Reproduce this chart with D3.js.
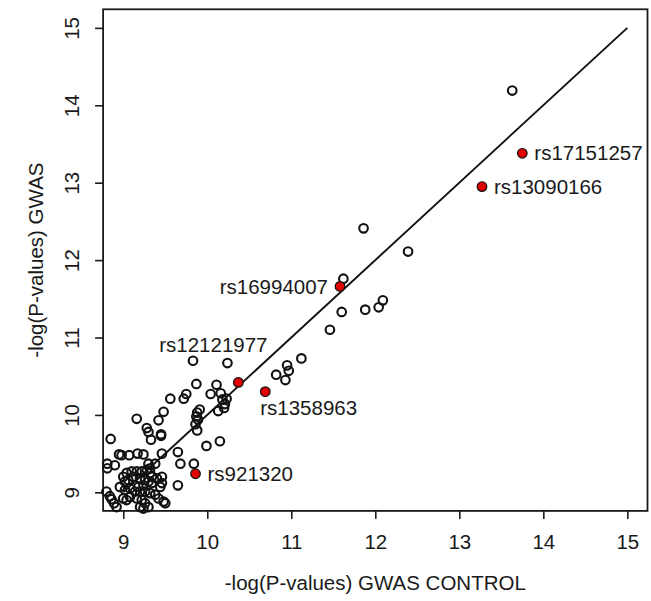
<!DOCTYPE html>
<html>
<head>
<meta charset="utf-8">
<script src="https://cdn.jsdelivr.net/npm/d3@7"></script>
<style>
  body { margin: 0; background: #fff; }
  text { font-family: "Liberation Sans", Arial, sans-serif; fill: #1a1a1a; }
</style>
</head>
<body>
<div id="chart"></div>
<script>
// open circles: -log(P) in control GWAS vs GWAS
const controlX = [
  9.83, 10.24, 9.87, 10.11, 10.04, 10.16, 10.18, 10.23, 9.75, 9.72,
  9.56, 9.48, 9.16, 9.42, 9.91, 9.88, 9.87, 9.89, 10.13, 10.20,
  10.21, 9.86, 9.88, 9.28, 9.30, 9.45, 9.45, 9.33, 8.85, 9.99,
  10.15, 9.65, 9.46, 8.95, 8.98, 9.07, 9.17, 9.24, 8.81, 8.90,
  8.81, 9.68, 9.84, 9.30, 9.32, 9.38, 9.65,
  11.12, 10.82, 10.95, 10.97, 10.93,
  13.63, 11.86, 12.39, 11.62, 12.09, 12.04, 11.88, 11.60, 11.46,
  9.04, 9.00, 9.02, 9.06, 9.10, 9.12, 9.16, 9.22, 9.28, 9.32,
  9.34, 9.20, 9.26, 9.30, 9.34, 9.24, 9.18, 9.40, 9.46, 9.46,
  9.44, 8.96, 9.02, 9.08, 9.14, 9.20, 9.26, 9.32, 9.38, 9.42,
  9.48, 9.50, 9.16, 9.22, 9.26, 9.20, 9.24, 9.30, 8.80, 8.84,
  8.86, 8.89, 8.92, 9.00, 9.04, 9.08
];
const gwasY = [
  10.70, 10.67, 10.40, 10.39, 10.27, 10.28, 10.20, 10.21, 10.27, 10.21,
  10.21, 10.04, 9.95, 9.93, 10.07, 10.03, 9.98, 9.94, 10.05, 10.09,
  10.14, 9.88, 9.80, 9.83, 9.78, 9.75, 9.73, 9.68, 9.69, 9.60,
  9.66, 9.52, 9.50, 9.49, 9.48, 9.48, 9.50, 9.49, 9.37, 9.35,
  9.31, 9.37, 9.37, 9.37, 9.31, 9.37, 9.09,
  10.73, 10.52, 10.64, 10.57, 10.45,
  14.19, 12.41, 12.11, 11.76, 11.48, 11.39, 11.36, 11.33, 11.10,
  9.25, 9.20, 9.14, 9.16, 9.27, 9.20, 9.27, 9.27, 9.29, 9.25,
  9.20, 9.18, 9.16, 9.14, 9.12, 9.09, 9.07, 9.18, 9.20, 9.12,
  9.07, 9.07, 9.03, 9.05, 9.01, 9.01, 9.01, 8.99, 8.97, 8.92,
  8.88, 8.86, 8.92, 8.90, 8.86, 8.81, 8.79, 8.81, 9.01, 8.95,
  8.91, 8.86, 8.81, 8.92, 8.90, 8.94
];

// highlighted SNPs
const snpNames = ["rs17151257", "rs13090166", "rs16994007", "rs12121977", "rs1358963", "rs921320"];
const snpX = [13.75, 13.27, 11.58, 10.37, 10.69, 9.86];
const snpY = [13.38, 12.95, 11.66, 10.42, 10.30, 9.24];

const xTicks = [9, 10, 11, 12, 13, 14, 15];
const yTicks = [9, 10, 11, 12, 13, 14, 15];
const refLine = [9, 15];

// label placement (pixels from the point)
const labelPos = [
  {dx: 12, dy: 0, anchor: "start"},
  {dx: 12, dy: 0, anchor: "start"},
  {dx: -12, dy: 0, anchor: "end"},
  {dx: -25, dy: -38, anchor: "middle"},
  {dx: -5, dy: 16, anchor: "start"},
  {dx: 12, dy: 0, anchor: "start"}
];

const W = 651, H = 601;
const fs = 20.5;

const svg = d3.select("#chart").append("svg")
  .attr("width", W)
  .attr("height", H);

const x = d3.scaleLinear().domain([8.76, 15.24]).range([103.1, 647.5]);
const y = d3.scaleLinear().domain([8.76, 15.24]).range([510.9, 9.3]);

// axes
const xAxis = d3.axisBottom(x).tickValues(xTicks).tickSize(8).tickPadding(16).tickFormat(d3.format("d"));
const yAxis = d3.axisLeft(y).tickValues(yTicks).tickSize(8).tickPadding(13).tickFormat(d3.format("d"));

const gx = svg.append("g")
  .attr("transform", "translate(0," + y.range()[0] + ")")
  .call(xAxis);
gx.select(".domain").remove();
gx.selectAll("line").attr("stroke", "#1a1a1a").attr("stroke-width", 1.6);
gx.selectAll("text").style("font-size", fs + "px").style("font-family", "Liberation Sans, Arial, sans-serif").attr("fill", "#1a1a1a");

const gy = svg.append("g")
  .attr("transform", "translate(" + x.range()[0] + ",0)")
  .call(yAxis);
gy.select(".domain").remove();
gy.selectAll("line").attr("stroke", "#1a1a1a").attr("stroke-width", 1.6);
gy.selectAll("text")
  .style("font-size", fs + "px")
  .style("font-family", "Liberation Sans, Arial, sans-serif")
  .attr("fill", "#1a1a1a")
  .attr("text-anchor", "middle")
  .attr("dy", "0.35em")
  .attr("x", 0)
  .attr("transform", d => "translate(-31,0) rotate(-90)");

// plot box
svg.append("rect")
  .attr("x", x.range()[0])
  .attr("y", y.range()[1])
  .attr("width", x.range()[1] - x.range()[0])
  .attr("height", y.range()[0] - y.range()[1])
  .attr("fill", "none")
  .attr("stroke", "#1a1a1a")
  .attr("stroke-width", 1.8);

// axis titles
svg.append("text")
  .attr("x", (x.range()[0] + x.range()[1]) / 2)
  .attr("y", 583)
  .attr("dy", "0.35em")
  .attr("text-anchor", "middle")
  .style("font-size", fs + "px")
  .text("-log(P-values) GWAS CONTROL");

svg.append("text")
  .attr("transform", "translate(36," + (y.range()[0] + y.range()[1]) / 2 + ") rotate(-90)")
  .attr("dy", "0.35em")
  .attr("text-anchor", "middle")
  .style("font-size", fs + "px")
  .text("-log(P-values) GWAS");

const plot = svg.append("g");

// open circles
plot.selectAll("circle.pt")
  .data(controlX.map((v, i) => [v, gwasY[i]]))
  .enter()
  .append("circle")
  .attr("class", "pt")
  .attr("cx", d => x(d[0]))
  .attr("cy", d => y(d[1]))
  .attr("r", 4.3)
  .attr("fill", "none")
  .attr("stroke", "#111")
  .attr("stroke-width", 2.1);

// reference line
plot.append("line")
  .attr("x1", x(refLine[0])).attr("y1", y(refLine[0]))
  .attr("x2", x(refLine[1])).attr("y2", y(refLine[1]))
  .attr("stroke", "#111")
  .attr("stroke-width", 1.9);

// highlighted SNPs
const snps = snpNames.map((n, i) => ({name: n, x: snpX[i], y: snpY[i], pos: labelPos[i]}));

plot.selectAll("circle.snp")
  .data(snps)
  .enter()
  .append("circle")
  .attr("class", "snp")
  .attr("cx", d => x(d.x))
  .attr("cy", d => y(d.y))
  .attr("r", 4.8)
  .attr("fill", "#e00000")
  .attr("stroke", "#111")
  .attr("stroke-width", 1.2);

plot.selectAll("text.lab")
  .data(snps)
  .enter()
  .append("text")
  .attr("class", "lab")
  .attr("x", d => x(d.x) + d.pos.dx)
  .attr("y", d => y(d.y) + d.pos.dy)
  .attr("dy", "0.35em")
  .attr("text-anchor", d => d.pos.anchor)
  .style("font-size", fs + "px")
  .text(d => d.name);
</script>
</body>
</html>
